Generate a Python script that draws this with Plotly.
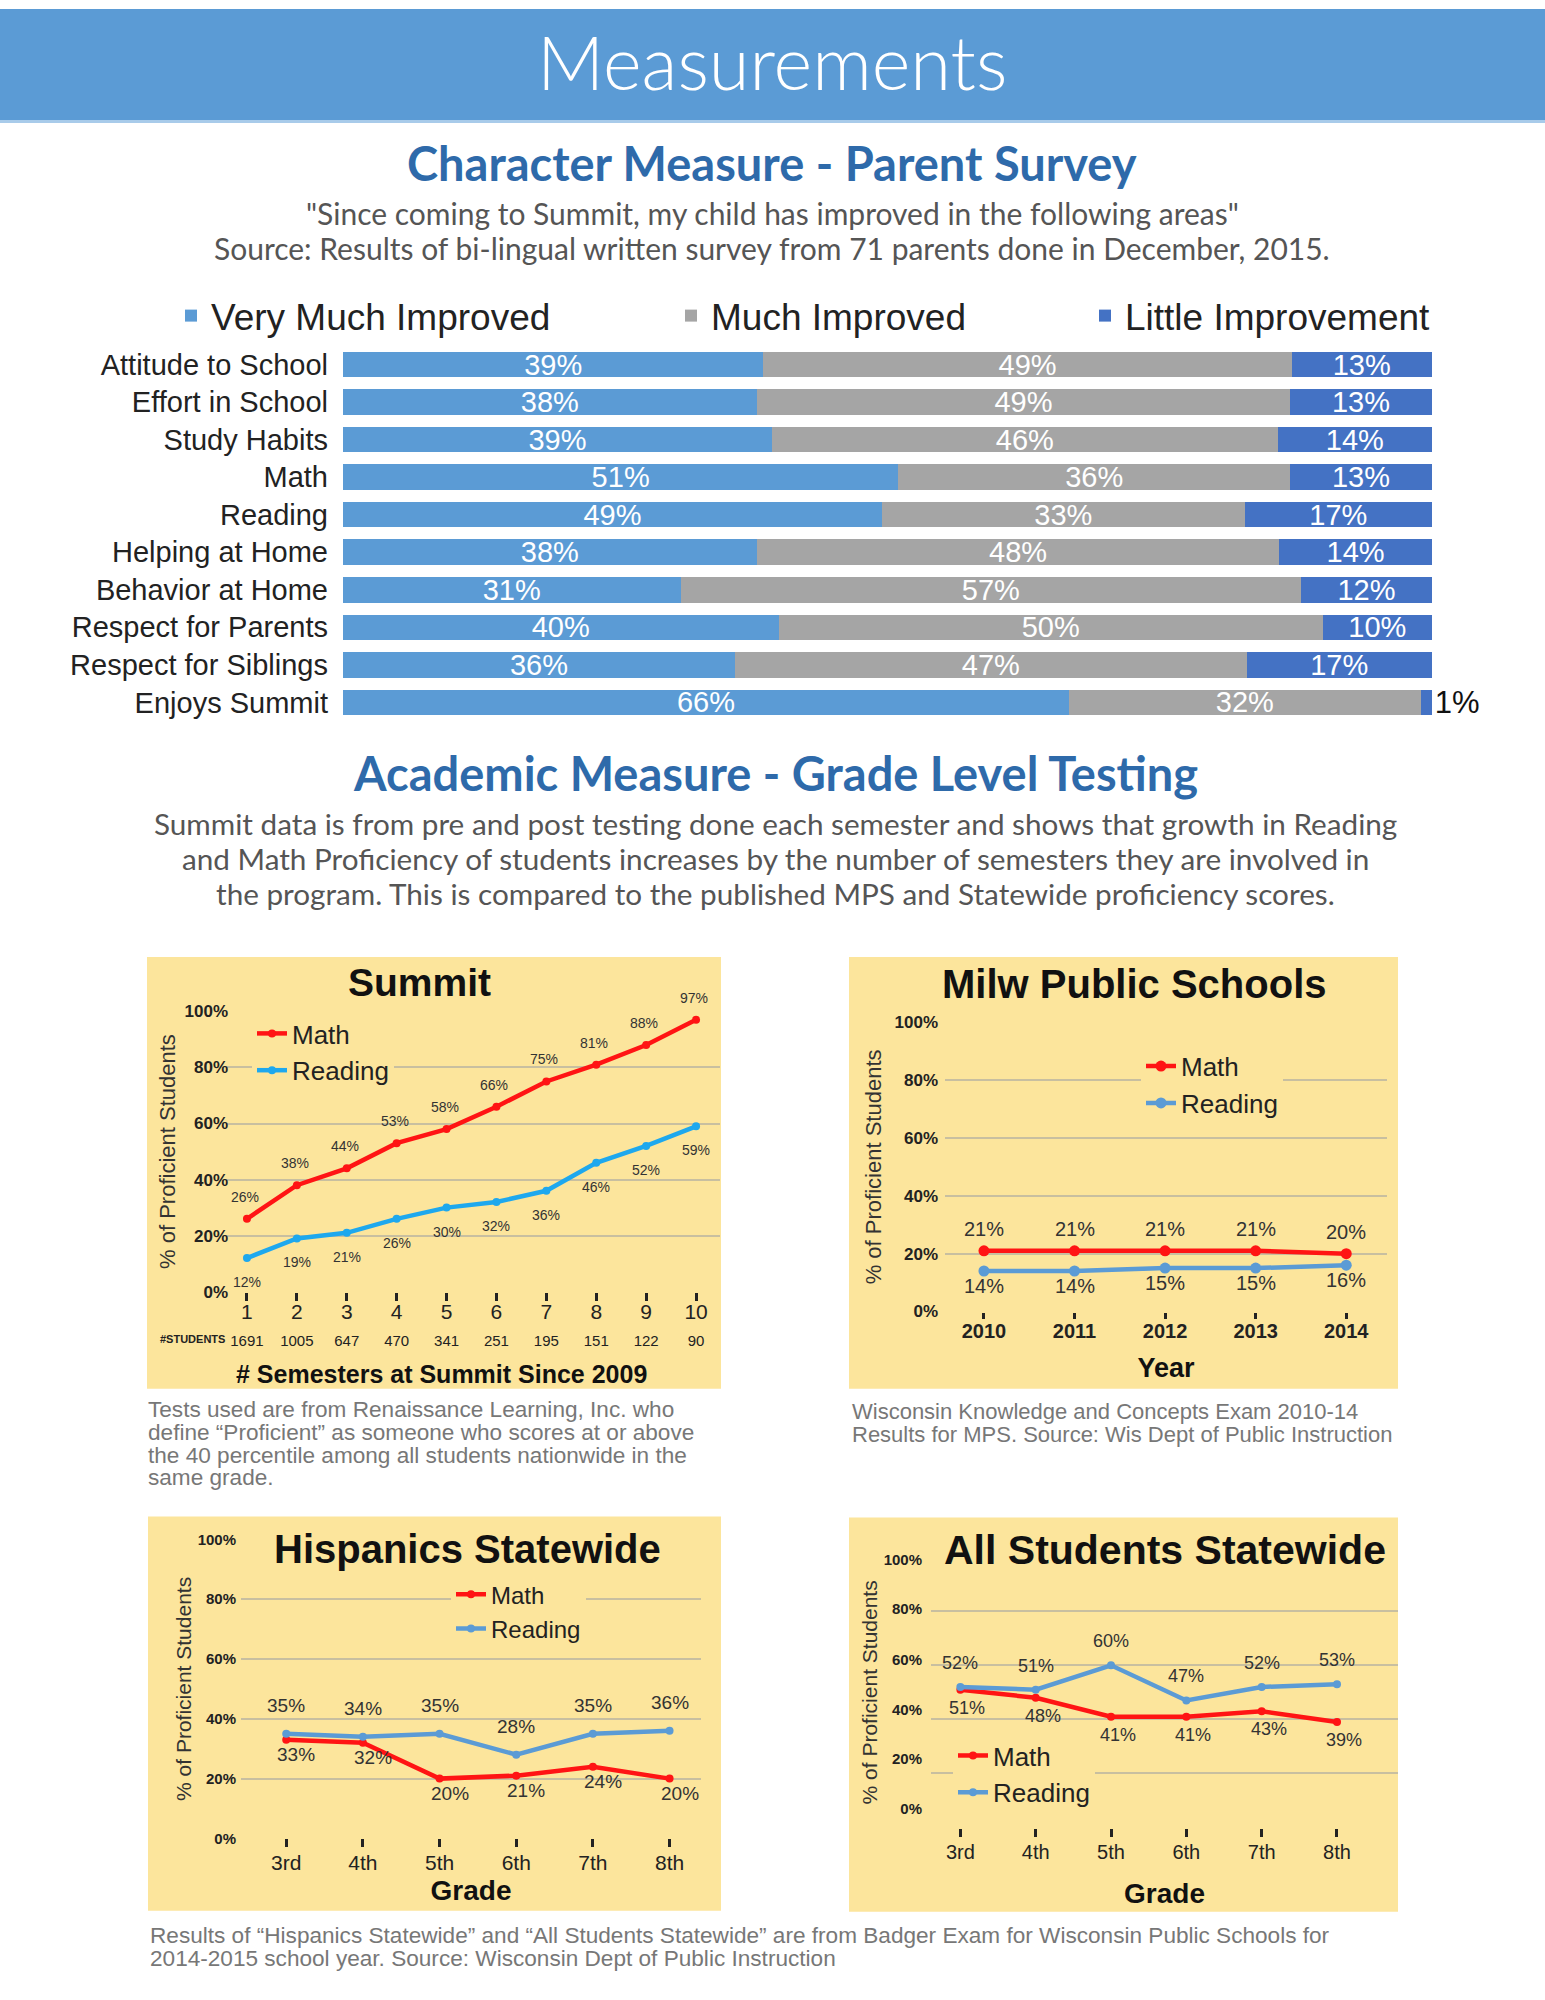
import plotly.graph_objects as go

W, H = 1545, 2000

# ---------------- data ----------------
categories = ["Attitude to School", "Effort in School", "Study Habits", "Math", "Reading",
              "Helping at Home", "Behavior at Home", "Respect for Parents",
              "Respect for Siblings", "Enjoys Summit"]
very_much = [39, 38, 39, 51, 49, 38, 31, 40, 36, 66]
much = [49, 49, 46, 36, 33, 48, 57, 50, 47, 32]
little = [13, 13, 14, 13, 17, 14, 12, 10, 17, 1]

semesters = [1, 2, 3, 4, 5, 6, 7, 8, 9, 10]
students = [1691, 1005, 647, 470, 341, 251, 195, 151, 122, 90]
summit_math = [26, 38, 44, 53, 58, 66, 75, 81, 88, 97]
summit_reading = [12, 19, 21, 26, 30, 32, 36, 46, 52, 59]

years = [2010, 2011, 2012, 2013, 2014]
mps_math = [21, 21, 21, 21, 20]
mps_reading = [14, 14, 15, 15, 16]

grades = ["3rd", "4th", "5th", "6th", "7th", "8th"]
hisp_math = [33, 32, 20, 21, 24, 20]
hisp_reading = [35, 34, 35, 28, 35, 36]
all_math = [51, 48, 41, 41, 43, 39]
all_reading = [52, 51, 60, 47, 52, 53]

pct_ticks = [0, 20, 40, 60, 80, 100]
pct_labels = ["0%", "20%", "40%", "60%", "80%", "100%"]
# tick labels of the "All Students" chart sit off their gridlines in the original
all_label_pos = [7, 25.5, 43.5, 62, 81, 99]

# ---------------- style ----------------
BLUE1, GRAY, BLUE2 = "#5B9BD5", "#A5A5A5", "#4472C4"
RED = "#FF1414"
CYAN = "#1EA8EE"
RBLUE = "#5B9BD5"
PANEL = "#FCE59C"
GRID = "#C8BFA0"
HEAD = "#2E6AAA"
TXT = "#555555"
SANS = "Liberation Sans, Arial, sans-serif"
HUM = "Lato, Open Sans, sans-serif"
LAB = "#333333"


def px(x):
    return x / W


def py(y):
    return 1 - y / H


def bold(lst):
    return [f"<b>{s}</b>" for s in lst]


fig = go.Figure()

# ---------------- survey bars ----------------
bar_specs = [("Very Much Improved", very_much, BLUE1, "legend"),
             ("Much Improved", much, GRAY, "legend2"),
             ("Little Improvement", little, BLUE2, "legend3")]
for i, (name, vals, col, lg) in enumerate(bar_specs):
    last = i == len(bar_specs) - 1
    pos = ["inside"] * len(vals)
    if last:
        pos = ["inside" if v >= 5 else "outside" for v in vals]
    fig.add_trace(go.Bar(
        name=name, y=categories, x=vals, orientation="h",
        marker=dict(color=col, line=dict(width=0)),
        text=[f"{v}%" for v in vals], textposition=pos,
        insidetextanchor="middle", textangle=0, constraintext="none",
        insidetextfont=dict(family=SANS, size=29, color="white"),
        outsidetextfont=dict(family=SANS, size=31, color="#111111"),
        cliponaxis=False, legend=lg, xaxis="x", yaxis="y",
        hovertemplate="%{y}: %{text}<extra>" + name + "</extra>"))

# ---------------- line charts ----------------
ann = []


def point_labels(xv, vals, xa, ya, yshift, size, xshift=0):
    for x, v in zip(xv, vals):
        ann.append(dict(x=x, y=v, xref=xa, yref=ya, text=f"{v}%", showarrow=False,
                        xanchor="center", yanchor="middle", yshift=yshift, xshift=xshift,
                        font=dict(family=SANS, size=size, color=LAB)))


def line_pair(xv, m, r, xa, ya, ya_r, lg, rcol, width=4.5, msize=8):
    fig.add_trace(go.Scatter(
        x=xv, y=m, name="Math", mode="lines+markers",
        line=dict(color=RED, width=width), marker=dict(color=RED, size=msize),
        cliponaxis=False, xaxis=xa, yaxis=ya, legend=lg))
    fig.add_trace(go.Scatter(
        x=xv, y=r, name="Reading", mode="lines+markers",
        line=dict(color=rcol, width=width), marker=dict(color=rcol, size=msize),
        cliponaxis=False, xaxis=xa, yaxis=ya_r, legend=lg))


line_pair(semesters, summit_math, summit_reading, "x2", "y2", "y2", "legend4", CYAN)
point_labels(semesters, summit_math, "x2", "y2", 22, 14, -2)
point_labels(semesters, summit_reading, "x2", "y2", -24, 14)

line_pair(years, mps_math, mps_reading, "x3", "y3", "y3", "legend5", RBLUE, msize=11)
point_labels(years, mps_math, "x3", "y3", 22, 20)
point_labels(years, mps_reading, "x3", "y3", -15, 20)

line_pair(grades, hisp_math, hisp_reading, "x4", "y4", "y4", "legend6", RBLUE)
point_labels(grades, hisp_math, "x4", "y4", -15, 19, 10)
point_labels(grades, hisp_reading, "x4", "y4", 28, 19)

line_pair(grades, all_math, all_reading, "x5", "y5", "y6", "legend7", RBLUE)
point_labels(grades, all_math, "x5", "y5", -18, 18, 7)
point_labels(grades, all_reading, "x5", "y5", 24, 18)

# ---------------- layout ----------------
def ydom(y0, y100):
    return [py(y0), py(y100)]


def xdom(a, b):
    return [px(a), px(b)]


ytitle_font = dict(family=SANS, size=22, color="#333333")

common_y = dict(range=[0, 100], tickvals=pct_ticks, ticktext=bold(pct_labels), showgrid=True,
                gridcolor=GRID, gridwidth=2, zeroline=False, ticks="", fixedrange=True)
common_x = dict(showgrid=False, zeroline=False, ticks="outside", ticklen=8, tickwidth=3,
                tickcolor="#222222", showline=False, fixedrange=True)

fig.update_layout(
    width=W, height=H, margin=dict(l=0, r=0, t=0, b=0),
    paper_bgcolor="white", plot_bgcolor="rgba(0,0,0,0)",
    font=dict(family=SANS, color="#222222"),
    barmode="stack", barnorm="percent", bargap=0.32,
    showlegend=True,
    xaxis=dict(domain=xdom(343, 1432), range=[0, 100.02], visible=False, fixedrange=True),
    yaxis=dict(domain=ydom(719, 340), autorange="reversed", type="category",
               tickfont=dict(family=SANS, size=29, color="#222222"), ticks="",
               ticklabelstandoff=14, showgrid=False, fixedrange=True),
    # Summit
    xaxis2=dict(domain=xdom(226, 720), range=[0.58, 10.48], tickvals=semesters,
                ticktext=[f"{s}<br><span style='font-size:15px'>{n}</span>"
                          for s, n in zip(semesters, students)],
                tickfont=dict(family=SANS, size=21, color="#222222"), ticklabelstandoff=-7,
                anchor="y2", **common_x),
    yaxis2=dict(domain=ydom(1295, 1012), anchor="x2",
                tickfont=dict(family=SANS, size=17, color="#222222"), ticklabelstandoff=-3,
                title=dict(text="% of Proficient Students", font=ytitle_font, standoff=2),
                **common_y),
    # Milwaukee
    xaxis3=dict(domain=xdom(945, 1387), range=[2009.57, 2014.45],
                tickvals=years, ticktext=bold(years),
                tickfont=dict(family=SANS, size=20, color="#222222"), ticklabelstandoff=-5,
                title=dict(text="<b>Year</b>", font=dict(family=SANS, size=27, color="#111111"),
                           standoff=17),
                anchor="y3", **{**common_x, "ticklen": 6}),
    yaxis3=dict(domain=ydom(1315, 1023), anchor="x3",
                tickfont=dict(family=SANS, size=17, color="#222222"), ticklabelstandoff=6,
                title=dict(text="% of Proficient Students", font=ytitle_font, standoff=6),
                **common_y),
    # Hispanics
    xaxis4=dict(domain=xdom(241, 701), type="category", range=[-0.59, 5.41],
                tickfont=dict(family=SANS, size=21, color="#222222"), ticklabelstandoff=-3,
                title=dict(text="<b>Grade</b>", font=dict(family=SANS, size=28, color="#111111"),
                           standoff=7),
                anchor="y4", **common_x),
    yaxis4=dict(domain=ydom(1847, 1545), anchor="x4",
                tickfont=dict(family=SANS, size=15, color="#222222"), ticklabelstandoff=4,
                title=dict(text="% of Proficient Students", font=dict(family=SANS, size=21, color="#333333"),
                           standoff=0),
                **common_y),
    # All students
    xaxis5=dict(domain=xdom(931, 1398), type="category", range=[-0.39, 5.81],
                tickfont=dict(family=SANS, size=20, color="#222222"), ticklabelstandoff=-2,
                title=dict(text="<b>Grade</b>", font=dict(family=SANS, size=28, color="#111111"),
                           standoff=21),
                anchor="y5", **common_x),
    yaxis5=dict(domain=ydom(1836, 1563), anchor="x5", showticklabels=False, **common_y),
    yaxis6=dict(domain=ydom(1836, 1563), overlaying="y5", anchor="x5", range=[0, 100],
                tickvals=all_label_pos, ticktext=bold(pct_labels), showgrid=False, zeroline=False,
                tickfont=dict(family=SANS, size=15, color="#222222"), ticklabelstandoff=8,
                fixedrange=True,
                title=dict(text="% of Proficient Students", font=dict(family=SANS, size=21, color="#333333"),
                           standoff=0)),
)

# legends
bar_leg_font = dict(family=SANS, size=37, color="#222222")
for key, x0 in [("legend", 171), ("legend2", 671), ("legend3", 1085)]:
    fig.update_layout(**{key: dict(x=px(x0), y=py(310), xanchor="left", yanchor="middle",
                                   orientation="h", font=bar_leg_font, bgcolor="rgba(0,0,0,0)",
                                   itemclick=False, itemdoubleclick=False)})

line_legs = [("legend4", 252, 1053, 26), ("legend5", 1141, 1086, 26),
             ("legend6", 451, 1618, 24), ("legend7", 953, 1782, 26)]
for key, x0, yc, fs in line_legs:
    fig.update_layout(**{key: dict(x=px(x0), y=py(yc), xanchor="left", yanchor="middle",
                                   orientation="v", font=dict(family=SANS, size=fs, color="#222222"),
                                   bgcolor=PANEL, tracegroupgap=0, itemwidth=30,
                                   itemclick=False, itemdoubleclick=False)})

# ---------------- shapes ----------------
shapes = [
    dict(type="rect", xref="paper", yref="paper", x0=0, x1=1, y0=py(112), y1=1,
         fillcolor="#5B9BD5", line=dict(width=0), layer="below"),
    dict(type="rect", xref="paper", yref="paper", x0=0, x1=1, y0=py(115), y1=py(112),
         fillcolor="#A8CBEA", line=dict(width=0), layer="below"),
]
for (a, b, c, d) in [(147, 721, 957, 1393), (849, 1398, 957, 1393),
                     (148, 721, 1522, 1920), (849, 1398, 1523, 1921)]:
    shapes.append(dict(type="rect", xref="paper", yref="paper", x0=px(a), x1=px(b),
                       y0=py(d), y1=py(c), fillcolor=PANEL, line=dict(width=0), layer="below"))
fig.update_layout(shapes=shapes)

# ---------------- annotations ----------------


def text(x, y, s, size, color, family=SANS, anchor="center", bold=False, bg=None, weight=None):
    d = dict(xref="paper", yref="paper", x=px(x), y=py(y), text=(f"<b>{s}</b>" if bold else s),
             showarrow=False, xanchor=anchor, yanchor="middle",
             font=dict(family=family, size=size, color=color))
    if weight:
        d["font"]["weight"] = weight
    if bg:
        d["bgcolor"] = bg
        d["borderpad"] = 2
    ann.append(d)


text(772, 53, "Measurements", 74, "white", family=HUM, weight=300)
text(772, 155, "Character Measure - Parent Survey", 47, HEAD, family=HUM, bold=True)
text(772, 206, "\"Since coming to Summit, my child has improved in the following areas\"", 30, TXT, family=HUM)
text(772, 241, "Source: Results of bi-lingual written survey from 71 parents done in December, 2015.", 30, TXT, family=HUM)
text(775, 771, "Academic Measure - Grade Level Testing", 47, HEAD, family=HUM, bold=True)
text(775, 822, "Summit data is from pre and post testing done each semester and shows that growth in Reading", 29.7, TXT, family=HUM)
text(775, 858, "and Math Proficiency of students increases by the number of semesters they are involved in", 29.7, TXT, family=HUM)
text(775, 893, "the program. This is compared to the published MPS and Statewide proficiency scores.", 29.7, TXT, family=HUM)

text(419, 983, "Summit", 39, "#111111", bold=True)
text(1134, 984, "Milw Public Schools", 40, "#111111", bold=True)
text(467, 1555, "Hispanics Statewide", 40, "#111111", bold=True, bg=PANEL)
text(1165, 1556, "All Students Statewide", 41, "#111111", bold=True, bg=PANEL)
text(158, 1343, "#STUDENTS", 11, "#222222", anchor="left", bold=True)
text(441, 1378, "# Semesters at Summit Since 2009", 25, "#111111", bold=True)

CAP = "#777777"
for i, s in enumerate(["Tests used are from Renaissance Learning, Inc. who",
                       "define \u201cProficient\u201d as someone who scores at or above",
                       "the 40 percentile among all students nationwide in the",
                       "same grade."]):
    text(146, 1414 + i * 23, s, 22.6, CAP, anchor="left")
for i, s in enumerate(["Wisconsin Knowledge and Concepts Exam 2010-14",
                       "Results for MPS. Source: Wis Dept of Public Instruction"]):
    text(850, 1416 + i * 23, s, 22, CAP, anchor="left")
for i, s in enumerate(["Results of \u201cHispanics Statewide\u201d and \u201cAll Students Statewide\u201d are from Badger Exam for Wisconsin Public Schools for",
                       "2014-2015 school year. Source: Wisconsin Dept of Public Instruction"]):
    text(148, 1945 + i * 23, s, 22.6, CAP, anchor="left")

fig.update_layout(annotations=ann)

fig.write_html("out.html", config={"displayModeBar": False},
               post_script="document.body.style.margin='0';document.body.style.padding='0';")
